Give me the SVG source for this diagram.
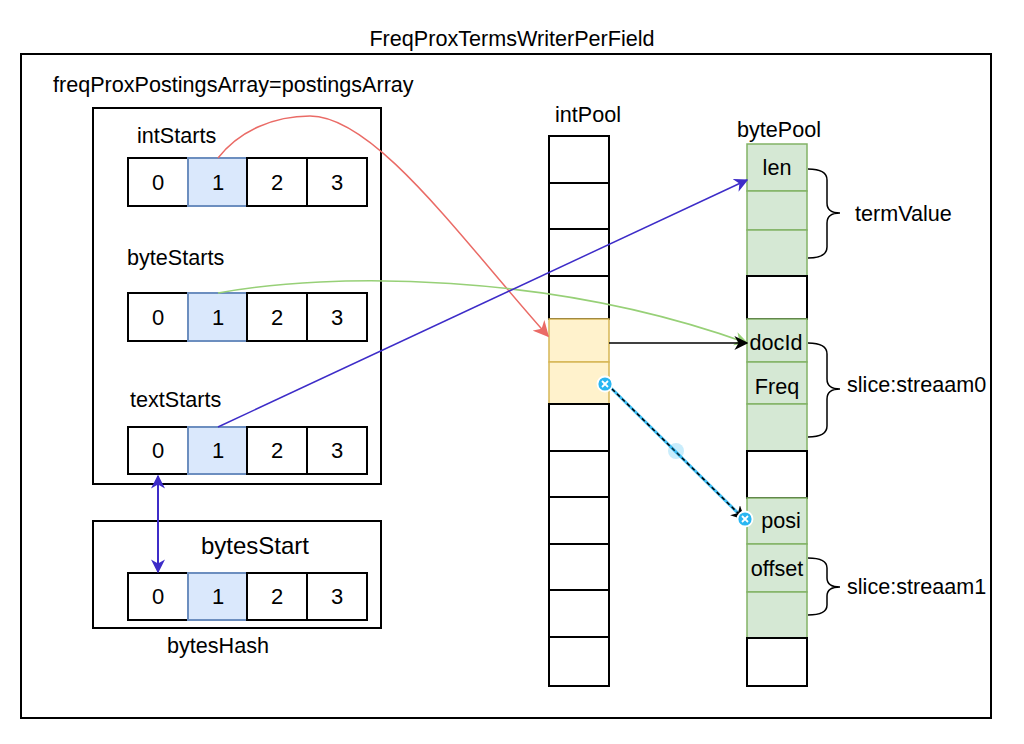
<svg xmlns="http://www.w3.org/2000/svg" width="1024" height="744" viewBox="0 0 1024 744">
<defs>
<style>
text{font-family:"Liberation Sans",Arial,Helvetica,sans-serif;font-size:21.6px;fill:#000}
.c{text-anchor:middle}
.d{font-size:22px}
.w{fill:#fff;stroke:#000;stroke-width:2}
.b{fill:#dae8fc;stroke:#6c8ebf;stroke-width:2}
.o{fill:#fff2cc;stroke:#d6b656;stroke-width:1.5}
.g{fill:#d5e8d4;stroke:#82b366;stroke-width:1.5}
.box{fill:#fff;stroke:#000;stroke-width:2}
.br{fill:none;stroke:#000;stroke-width:1.5}
</style>
<marker id="mg" viewBox="0 0 10 10" refX="9" refY="5" markerWidth="14" markerHeight="14" orient="auto" markerUnits="userSpaceOnUse"><path d="M0,0 L10,5 L0,10 L3,5 z" fill="#97d077"/></marker>
<marker id="mb" viewBox="0 0 10 10" refX="9" refY="5" markerWidth="14" markerHeight="14" orient="auto" markerUnits="userSpaceOnUse"><path d="M0,0 L10,5 L0,10 L3,5 z" fill="#3d2cc8"/></marker>
<marker id="mbs" viewBox="0 0 10 10" refX="1" refY="5" markerWidth="14" markerHeight="14" orient="auto" markerUnits="userSpaceOnUse"><path d="M10,0 L0,5 L10,10 L7,5 z" fill="#3d2cc8"/></marker>
<marker id="mk" viewBox="0 0 10 10" refX="9" refY="5" markerWidth="14" markerHeight="14" orient="auto" markerUnits="userSpaceOnUse"><path d="M0,0 L10,5 L0,10 L3,5 z" fill="#000"/></marker>
<marker id="mr2" viewBox="0 0 10 10" refX="9" refY="5" markerWidth="16" markerHeight="16" orient="auto" markerUnits="userSpaceOnUse"><path d="M0,0 L10,5 L0,10 L3,5 z" fill="#ea6b66"/></marker>
</defs>

<text class="c" x="512" y="46">FreqProxTermsWriterPerField</text>
<g id="frame"><rect x="21" y="54" width="970" height="664" fill="none" stroke="#000" stroke-width="2"/></g>
<text x="53" y="92">freqProxPostingsArray=postingsArray</text>

<g id="postingsArray">
<rect class="box" x="93" y="108" width="288" height="376"/>
<text x="137" y="143">intStarts</text>
<g id="intStarts">
<rect class="w" x="128" y="158" width="60" height="48"/><rect class="b" x="188" y="158" width="59" height="48"/><rect class="w" x="247" y="158" width="60" height="48"/><rect class="w" x="307" y="158" width="60" height="48"/>
<text class="c d" x="158" y="190">0</text><text class="c d" x="218" y="190">1</text><text class="c d" x="277" y="190">2</text><text class="c d" x="337" y="190">3</text>
</g>
<text x="127" y="265">byteStarts</text>
<g id="byteStarts">
<rect class="w" x="128" y="293" width="60" height="48"/><rect class="b" x="188" y="293" width="59" height="48"/><rect class="w" x="247" y="293" width="60" height="48"/><rect class="w" x="307" y="293" width="60" height="48"/>
<text class="c d" x="158" y="325">0</text><text class="c d" x="218" y="325">1</text><text class="c d" x="277" y="325">2</text><text class="c d" x="337" y="325">3</text>
</g>
<text x="130" y="407">textStarts</text>
<g id="textStarts">
<rect class="w" x="128" y="427" width="60" height="47"/><rect class="b" x="188" y="427" width="59" height="47"/><rect class="w" x="247" y="427" width="60" height="47"/><rect class="w" x="307" y="427" width="60" height="47"/>
<text class="c d" x="158" y="458">0</text><text class="c d" x="218" y="458">1</text><text class="c d" x="277" y="458">2</text><text class="c d" x="337" y="458">3</text>
</g>
</g>

<g id="bytesHash">
<rect class="box" x="93" y="521" width="288" height="107"/>
<text class="c" x="255" y="554" style="font-size:24px">bytesStart</text>
<rect class="w" x="128" y="573" width="60" height="47"/><rect class="b" x="188" y="573" width="59" height="47"/><rect class="w" x="247" y="573" width="60" height="47"/><rect class="w" x="307" y="573" width="60" height="47"/>
<text class="c d" x="158" y="604">0</text><text class="c d" x="218" y="604">1</text><text class="c d" x="277" y="604">2</text><text class="c d" x="337" y="604">3</text>
<text class="c" x="218" y="653">bytesHash</text>
</g>

<g id="intPool">
<text class="c" x="588" y="122">intPool</text>
<rect class="w" x="549" y="136" width="60" height="47"/>
<rect class="w" x="549" y="183" width="60" height="46"/>
<rect class="w" x="549" y="229" width="60" height="47"/>
<rect class="w" x="549" y="276" width="60" height="43"/>
<rect class="o" x="549" y="319" width="60" height="43"/>
<rect class="o" x="549" y="362" width="60" height="42"/>
<rect class="w" x="549" y="404" width="60" height="47"/>
<rect class="w" x="549" y="451" width="60" height="46"/>
<rect class="w" x="549" y="497" width="60" height="47"/>
<rect class="w" x="549" y="544" width="60" height="46"/>
<rect class="w" x="549" y="590" width="60" height="47"/>
<rect class="w" x="549" y="637" width="60" height="49"/>
</g>

<g id="bytePool">
<text class="c" x="779" y="137">bytePool</text>
<rect class="g" x="747" y="144" width="60" height="47"/>
<rect class="g" x="747" y="191" width="60" height="39"/>
<rect class="g" x="747" y="230" width="60" height="46"/>
<rect class="w" x="747" y="276" width="60" height="43"/>
<rect class="g" x="747" y="319" width="60" height="43"/>
<rect class="g" x="747" y="362" width="60" height="42"/>
<rect class="g" x="747" y="404" width="60" height="47"/>
<rect class="w" x="747" y="451" width="60" height="47"/>
<rect class="g" x="747" y="498" width="60" height="46"/>
<rect class="g" x="747" y="544" width="60" height="48"/>
<rect class="g" x="747" y="592" width="60" height="46"/>
<rect class="w" x="747" y="638" width="60" height="48"/>
<text class="c" x="777" y="175">len</text>
<text class="c" x="776" y="350">docId</text>
<text class="c" x="777" y="394">Freq</text>
<text class="c" x="781" y="528">posi</text>
<text class="c" x="777" y="576">offset</text>
</g>

<g id="braces">
<path class="br" d="M808,169 Q827,169 827,180 L827,203 Q827,213 840,213 Q827,213 827,223 L827,247 Q827,258 808,258"/>
<text x="855" y="221">termValue</text>
<path class="br" d="M808,343 Q827,343 827,354 L827,379 Q827,389 840,389 Q827,389 827,399 L827,426 Q827,437 808,437"/>
<text x="847" y="392">slice:streaam0</text>
<path class="br" d="M808,558 Q827,558 827,568 L827,578 Q827,587 840,587 Q827,587 827,596 L827,605 Q827,615 808,615"/>
<text x="847" y="594">slice:streaam1</text>
</g>

<g id="connectors" fill="none">
<path d="M218,158 C240,130 275,116 310,116 C375,116 462,240 548,336" stroke="#ea6b66" stroke-width="1.5" marker-end="url(#mr2)"/>
<path d="M218,293 C330,272 550,272 747,343" stroke="#97d077" stroke-width="1.5" marker-end="url(#mg)"/>
<path d="M218,427 L747,180" stroke="#3d2cc8" stroke-width="1.5" marker-end="url(#mb)"/>
<path d="M158,476 L158,572" stroke="#3d2cc8" stroke-width="2" marker-start="url(#mbs)" marker-end="url(#mb)"/>
<path d="M609,343 L747,343" stroke="#000" stroke-width="1.5" marker-end="url(#mk)"/>
<path d="M607,384 L744,519" stroke="#29b6f2" stroke-width="3" opacity="0.9"/>
<path d="M607,384 L744,519" stroke="#000" stroke-width="1.5" stroke-dasharray="4 3" marker-end="url(#mk)"/>
<circle cx="676" cy="451" r="8" fill="#29b6f2" opacity="0.25"/>
<g stroke="#fff" stroke-width="1.8">
<circle cx="605" cy="384" r="7.5" fill="#29b6f2"/>
<path d="M602,381 L608,387 M608,381 L602,387"/>
<circle cx="745" cy="519" r="7.5" fill="#29b6f2"/>
<path d="M742,516 L748,522 M748,516 L742,522"/>
</g>
</g>
</svg>
